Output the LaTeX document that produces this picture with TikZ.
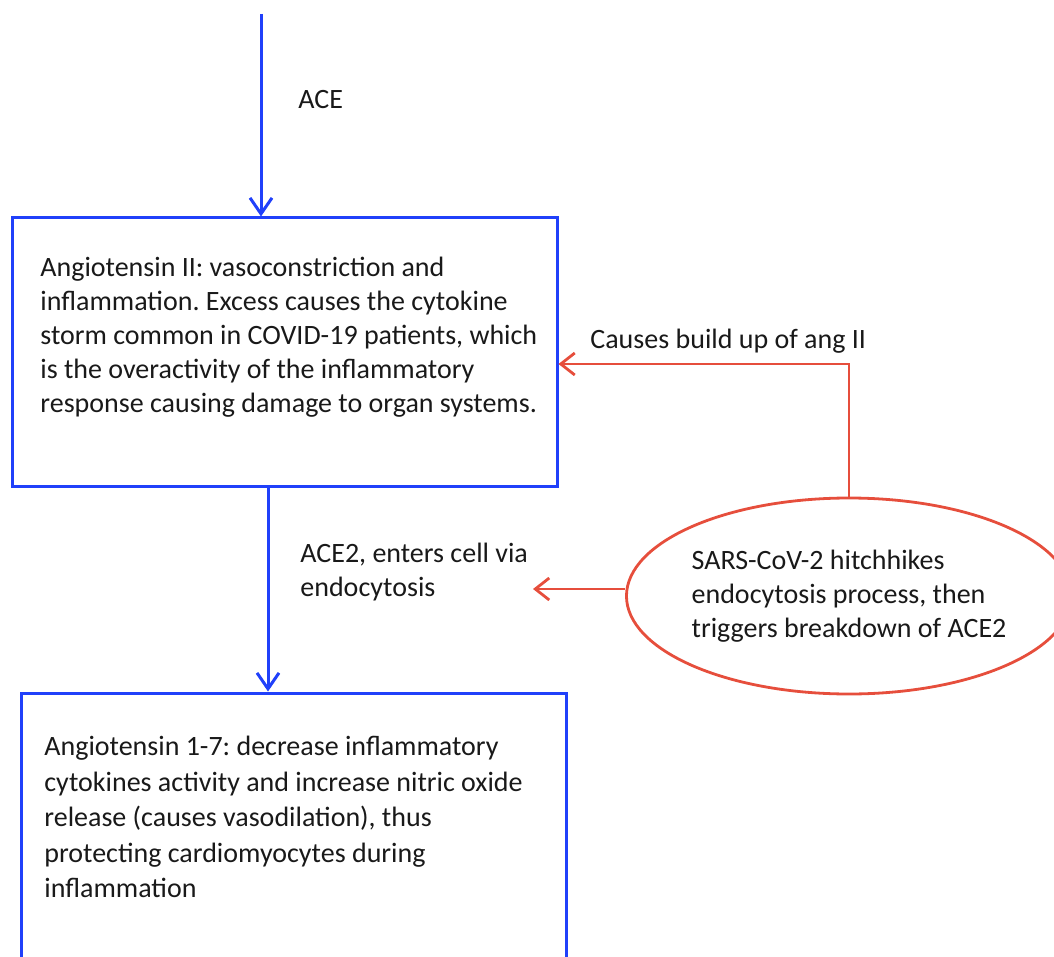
\documentclass[tikz,border=0pt]{standalone}
\usepackage{fontspec}
\setmainfont{Carlito}
\usepackage{tikz}
\usetikzlibrary{arrows.meta,shapes.geometric}
\frenchspacing

\definecolor{flowblue}{RGB}{32,64,250}
\definecolor{virusred}{RGB}{230,78,60}

\tikzset{
  bluebox/.style={draw=flowblue,line width=1.5pt,rectangle,inner sep=0pt},
  bluearrow/.style={draw=flowblue,line width=1.5pt,-{Straight Barb[length=8pt,width=11pt,line width=1.5pt]}},
  redarrow/.style={draw=virusred,line width=1.4pt,-{Straight Barb[length=7pt,width=11pt,line width=1.4pt]}},
  boxtext/.style={align=left,inner sep=0pt,font=\fontsize{14pt}{17pt}\selectfont,text=black!90},
}

\begin{document}
\begin{tikzpicture}[x=0.5pt,y=-0.5pt]
            \useasboundingbox (0,0) rectangle (1054,957);
            \node [bluebox,minimum width=272.5pt,minimum height=134pt] (angII) at (284.5,352) {};
            \node [bluebox,minimum width=272.5pt,minimum height=160pt] (ang17) at (293.5,853) {};
            \node [draw=virusred,line width=1.4pt,ellipse,minimum width=202pt,minimum height=98pt,inner sep=0pt,
                   boxtext] (virus) at (849,596)
                  {SARS-CoV-2 hitchhikes\\endocytosis process, then\\triggers breakdown of ACE2};
          \node [boxtext,anchor=north west] (angIItext) at (40,257)
                {Angiotensin II: vasoconstriction and\\inflammation. Excess causes the cytokine\\storm common in COVID-19 patients, which\\is the overactivity of the inflammatory\\response causing damage to organ systems.};
          \node [boxtext,anchor=north west,font=\fontsize{14pt}{17.7pt}\selectfont] (ang17text) at (44,736)
                {Angiotensin 1-7: decrease inflammatory\\cytokines activity and increase nitric oxide\\release (causes vasodilation), thus\\protecting cardiomyocytes during\\inflammation};
          \node [boxtext,anchor=west] (acelabel) at (298,100) {ACE};
          \node [boxtext,anchor=west] (ace2label) at (300,572) {ACE2, enters cell via\\endocytosis};
          \node [boxtext,anchor=west] (buildlabel) at (590,341) {Causes build up of ang II};
            \coordinate (acestart) at (261,14);
            \coordinate (ace2col) at (268,0);
            \coordinate (ace2note) at (533,589);
            \draw [bluearrow] (acestart) -- (acestart |- angII.north);
            \draw [bluearrow] (ace2col |- angII.south) -- (ace2col |- ang17.north);
            \draw [redarrow] (virus.north) |- ([yshift=-6pt]angII.east);
            \draw [redarrow] ([yshift=3.5pt]virus.west) -- (ace2note);
        \end{tikzpicture}
\end{document}
